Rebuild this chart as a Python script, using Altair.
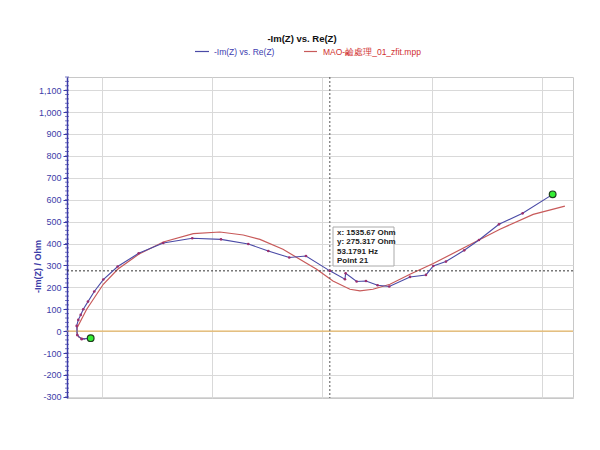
import altair as alt
import pandas as pd

# ---- data ----
meas_re = [448.6, 407.7, 387.7, 385.0, 392.3, 403.2, 415.0, 436.4, 465.0, 506.0, 571.4, 666.8,
           778.6, 910.4, 1040.9, 1165.0, 1255.9, 1351.3, 1427.2, 1535.67, 1604.4, 1607.6, 1657.6,
           1700.0, 1753.0, 1805.8, 1900.0, 1972.6, 2005.8, 2063.5, 2146.7, 2213.5, 2304.4, 2412.0, 2548.5]
meas_im = [-31.9, -36.5, -18.0, 24.0, 51.5, 74.3, 100.0, 135.0, 181.0, 235.6, 295.0, 355.5,
           402.5, 424.0, 419.0, 398.0, 366.0, 336.0, 343.0, 275.317, 237.0, 264.0, 226.5,
           229.0, 209.7, 203.7, 247.5, 256.6, 297.6, 317.7, 369.0, 416.0, 487.7, 537.8, 624.4]

fit_re = [423.0, 395.0, 386.0, 387.7, 430.5, 506.0, 571.4, 666.8, 778.6, 915.0, 1036.0, 1142.0,
          1218.0, 1322.6, 1475.8, 1549.9, 1627.0, 1672.6, 1731.7, 1809.0, 1900.0, 2005.8,
          2213.5, 2309.0, 2460.0, 2604.0]
fit_im = [-36.0, -28.0, -8.0, 17.0, 100.0, 214.0, 282.6, 351.0, 407.0, 445.0, 452.6, 439.0,
          419.0, 373.7, 282.6, 229.0, 191.4, 183.7, 191.4, 214.0, 260.0, 308.6,
          416.0, 465.0, 533.0, 571.0]

cursor_re = 1535.67
cursor_im = 275.317
cursor_lines = ["x: 1535.67 Ohm", "y: 275.317 Ohm", "53.1791 Hz", "Point 21"]

y_ticks = [-300, -200, -100, 0, 100, 200, 300, 400, 500, 600, 700, 800, 900, 1000, 1100]
x_grid = [500, 1000, 1500, 2000, 2500]
minor_ticks = list(range(-300, 1161, 20))

title_text = "-Im(Z) vs. Re(Z)"
legend_names = ["-Im(Z) vs. Re(Z)", "MAO-鹼處理_01_zfit.mpp"]
y_title = "-Im(Z) / Ohm"

# ---- styles ----
BLUE = "#4a4aa6"
RED = "#c85a5a"
AXBLUE = "#3c3ca8"
FONT = "Liberation Sans"
W, H = 506, 321

meas = pd.DataFrame({"re": meas_re, "im": meas_im, "i": range(len(meas_re))})
fit = pd.DataFrame({"re": fit_re, "im": fit_im, "i": range(len(fit_re))})
ends = meas.iloc[[0, len(meas) - 1]]
one = pd.DataFrame({"a": [0]})

xs = alt.Scale(domain=[341, 2641], nice=False, zero=False)
ys = alt.Scale(domain=[-305, 1160], nice=False, zero=False)

x_axis = alt.Axis(values=x_grid, labels=False, ticks=False, domain=False, title=None,
                  grid=True, gridColor="#d9d9d9")
y_axis = alt.Axis(values=y_ticks, tickCount=15,
                  labelExpr="(datum.value < 0 ? '-' : '') + format(abs(datum.value), ',d')",
                  labelOverlap=False, labelColor=AXBLUE, labelFont=FONT,
                  labelFontSize=9, labelPadding=2, tickColor=AXBLUE, tickSize=4,
                  domainColor=AXBLUE, domainWidth=1.5, gridColor="#d9d9d9",
                  title=y_title, titleColor=AXBLUE, titleFont=FONT, titleFontSize=9,
                  titleFontWeight="bold", titleAngle=270, titleX=-30, titleY=189,
                  titleAlign="center", titleBaseline="middle")
Xp = alt.X("re:Q", scale=xs, axis=x_axis)
Yp = alt.Y("im:Q", scale=ys, axis=y_axis)

base_fit = alt.Chart(fit).mark_line(color=RED, strokeWidth=1.2).encode(x=Xp, y=Yp, order="i:Q")
base_meas = alt.Chart(meas).mark_line(color=BLUE, strokeWidth=1.1).encode(x=Xp, y=Yp, order="i:Q")
pts = alt.Chart(meas).mark_circle(color="#9a2f6e", size=7, opacity=1).encode(x=Xp, y=Yp)
green = alt.Chart(ends).mark_circle(fill="#33ee33", stroke="#1f3f1f", strokeWidth=1.2,
                                     size=45, opacity=1).encode(x=Xp, y=Yp)

zero = alt.Chart(pd.DataFrame({"im": [0]})).mark_rule(color="#e6b665", strokeWidth=1.2).encode(y=Yp)
hcur = alt.Chart(pd.DataFrame({"im": [cursor_im]})).mark_rule(
    color="#333333", strokeDash=[2, 2], strokeWidth=1).encode(y=Yp)
vcur = alt.Chart(pd.DataFrame({"re": [cursor_re]})).mark_rule(
    color="#555555", strokeDash=[2, 2], strokeWidth=1).encode(x=Xp)

minor = alt.Chart(pd.DataFrame({"im": minor_ticks})).mark_tick(
    color=AXBLUE, size=4, thickness=1, orient="horizontal").encode(y=Yp, x=alt.value(0))

layers = [base_fit, zero, hcur, vcur, base_meas, pts, green, minor]

layers.append(alt.Chart(one).mark_rect(fill="white", stroke="#aaaaaa", strokeWidth=1).encode(
    x=alt.value(266), x2=alt.value(327), y=alt.value(150), y2=alt.value(189)))
for k, line in enumerate(cursor_lines):
    layers.append(alt.Chart(one).mark_text(
        text=line, align="left", baseline="middle", font=FONT, fontSize=8, fontWeight="bold",
        color="#222222").encode(x=alt.value(270), y=alt.value(155.5 + 9.6 * k)))

layers.append(alt.Chart(one).mark_text(
    text=title_text, font=FONT, fontSize=9.5, fontWeight="bold", color="#111111",
    align="center", baseline="middle").encode(x=alt.value(235), y=alt.value(-38)))

for (x1, x2, tx, col, tcol, name) in [(128, 142, 147, BLUE, "#4040b0", legend_names[0]),
                                       (237, 250, 256, RED, "#d03030", legend_names[1])]:
    layers.append(alt.Chart(one).mark_rule(color=col, strokeWidth=1.2).encode(
        x=alt.value(x1), x2=alt.value(x2), y=alt.value(-25.5)))
    layers.append(alt.Chart(one).mark_text(
        text=name, font=FONT, fontSize=8.5, align="left", baseline="middle", color=tcol).encode(
        x=alt.value(tx), y=alt.value(-25.5)))

chart = alt.layer(*layers).properties(
    width=W, height=H,
    autosize=alt.AutoSizeParams(type="none"),
    padding={"left": 59, "top": 69, "right": 19, "bottom": 44},
    background="white",
).configure_view(stroke="#c8c8c8", strokeWidth=1).configure_axis(labelOverlap=False)

chart.save("out.html", embed_options={"renderer": "svg", "actions": False})
